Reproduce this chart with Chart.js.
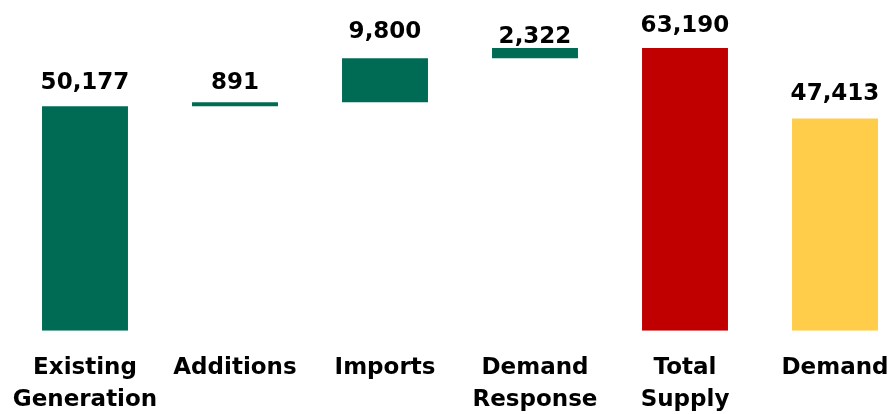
<!DOCTYPE html>
<html>
<head>
<meta charset="utf-8">
<script src="https://cdn.jsdelivr.net/npm/chart.js@4/dist/chart.umd.min.js"></script>
<style>
  html, body { margin: 0; padding: 0; background: #fff; overflow: hidden; }
  #wrap { position: relative; width: 894px; height: 414px; overflow: hidden; }
  #box { position: absolute; left: 0; top: 0; width: 920px; height: 414px; }
</style>
</head>
<body>
<div id="wrap"><div id="box"><canvas id="chart"></canvas></div></div>
<script>
// Capacity build-up (MW): stacked steps to total supply, then demand
const categories = [["Existing", "Generation"], "Additions", "Imports", ["Demand", "Response"], ["Total", "Supply"], "Demand"];
const values = [50177, 891, 9800, 2322, 63190, 47413];
const kinds = ["base", "step", "step", "step", "total", "demand"];
const valueLabels = ["50,177", "891", "9,800", "2,322", "63,190", "47,413"];

const colours = { base: "#006B54", step: "#006B54", total: "#C00000", demand: "#FFCD4A" };

// Floating bars: each step starts where the previous running total ended
let running = 0;
const ranges = values.map((v, i) => {
  if (kinds[i] === "step") {
    const r = [running, running + v];
    running += v;
    return r;
  }
  if (kinds[i] === "base") running = v;
  return [0, v];
});

const FONT = "'DejaVu Sans', Verdana, sans-serif";

const valueLabelPlugin = {
  id: "valueLabels",
  afterDatasetsDraw(chart, args, opts) {
    const ctx = chart.ctx;
    const meta = chart.getDatasetMeta(0);
    ctx.save();
    ctx.font = "bold 23px " + FONT;
    ctx.fillStyle = "#000";
    ctx.textAlign = "center";
    ctx.textBaseline = "alphabetic";
    meta.data.forEach((bar, i) => {
      const top = Math.min(bar.y, bar.base);
      ctx.fillText(valueLabels[i], bar.x, top - opts.gaps[i]);
    });
    ctx.restore();
  }
};

new Chart(document.getElementById("chart"), {
  type: "bar",
  data: {
    labels: categories,
    datasets: [{
      data: ranges,
      backgroundColor: kinds.map(k => colours[k]),
      borderWidth: 0,
      categoryPercentage: 1,
      barPercentage: 0.573
    }]
  },
  options: {
    responsive: true,
    maintainAspectRatio: false,
    animation: false,
    layout: { padding: { left: 10, right: 10, top: 17.5, bottom: 0 } },
    plugins: {
      legend: { display: false },
      tooltip: { enabled: false },
      valueLabels: { gaps: [17, 13, 20, 5, 16, 19] }
    },
    scales: {
      y: { display: false, min: 0, max: 70000 },
      x: {
        grid: { display: false, drawTicks: false },
        border: { display: false },
        afterFit: (scale) => {
          scale.height = 83.3;
          // let the outer labels overhang the plot edges
          scale.paddingLeft = 0;
          scale.paddingRight = 0;
        },
        ticks: {
          color: "#000",
          padding: 22,
          maxRotation: 0,
          autoSkip: false,
          font: { family: FONT, size: 23, weight: "bold", lineHeight: "31.5px" }
        }
      }
    }
  },
  plugins: [valueLabelPlugin]
});
</script>
</body>
</html>
